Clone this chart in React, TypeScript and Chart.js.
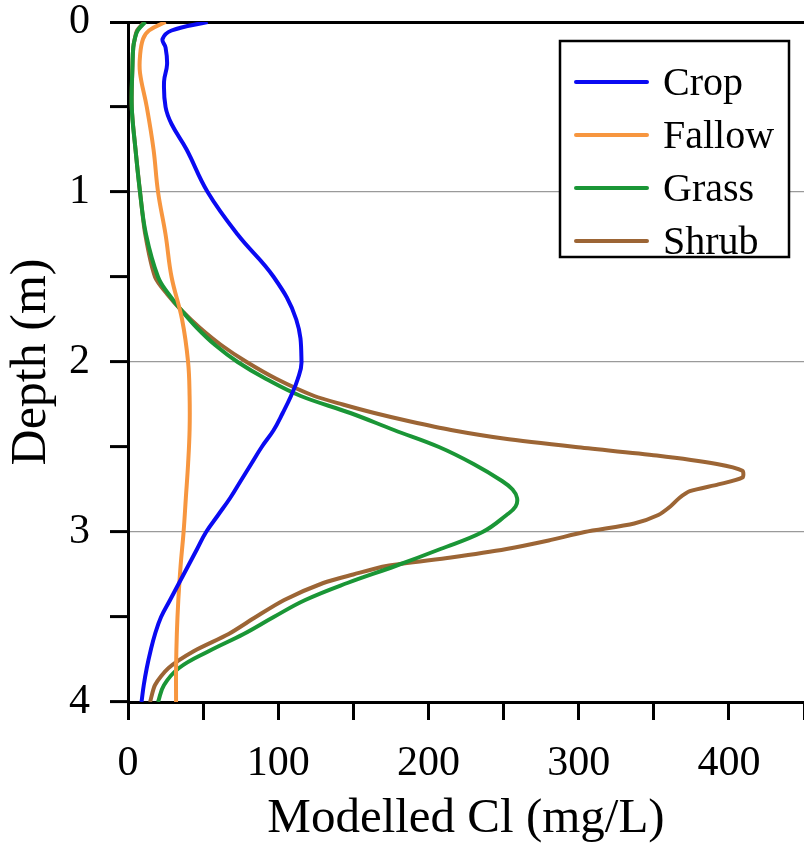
import React, { useEffect, useRef } from "react";
import { Chart, registerables } from "chart.js";

Chart.register(...registerables);

// ---- Data ----
const seriesNames = ["Crop", "Fallow", "Grass", "Shrub"];
const seriesColors = ["#0a0af2", "#f7963f", "#1a9636", "#9c6535"];

const cropDepth = [0, 0.05, 0.1, 0.15, 0.25, 0.35, 0.5, 0.6, 0.75, 1, 1.25, 1.5, 1.75, 2, 2.1, 2.2, 2.3, 2.4, 2.5, 2.6, 2.7, 2.8, 2.9, 3, 3.1, 3.2, 3.3, 3.4, 3.5, 3.6, 3.7, 3.8, 3.9, 4];
const cropCl = [53, 29, 23, 25, 26, 24, 25, 29, 39, 53, 73, 97, 112, 115.5, 113, 108.5, 103, 97, 89, 82, 75, 68, 60, 52, 46, 40, 34, 28, 22, 18, 15, 12.5, 10.5, 9];

const fallowDepth = [0, 0.05, 0.1, 0.2, 0.3, 0.5, 0.75, 1, 1.25, 1.5, 1.75, 2, 2.2, 2.4, 2.6, 2.8, 3, 3.2, 3.4, 3.6, 3.8, 4];
const fallowCl = [25, 14, 10, 8, 8, 12.5, 17, 20, 25, 29, 36, 40, 41, 41, 40, 38.5, 37, 35, 33.5, 32.5, 32, 32];

const grassDepth = [0, 0.05, 0.1, 0.15, 0.25, 0.5, 0.75, 1, 1.25, 1.5, 1.6, 1.7, 1.8, 1.9, 2, 2.1, 2.2, 2.3, 2.4, 2.5, 2.6, 2.7, 2.75, 2.8, 2.85, 2.9, 3, 3.1, 3.2, 3.3, 3.4, 3.5, 3.6, 3.7, 3.8, 3.9, 4];
const grassCl = [11.5, 6.5, 4.5, 3.5, 3, 2.5, 5, 8, 12, 20, 27, 36, 46, 58, 73, 92, 115, 148, 177, 207, 230, 249, 256, 259, 258, 252, 236, 208, 178, 146, 118, 97, 77, 54, 34, 24, 20];

const shrubDepth = [0, 0.05, 0.1, 0.15, 0.25, 0.5, 0.75, 1, 1.25, 1.5, 1.6, 1.7, 1.8, 1.9, 2, 2.1, 2.2, 2.25, 2.3, 2.35, 2.4, 2.45, 2.5, 2.55, 2.6, 2.64, 2.68, 2.72, 2.76, 2.8, 2.85, 2.9, 2.95, 3, 3.05, 3.1, 3.15, 3.2, 3.25, 3.3, 3.4, 3.5, 3.6, 3.7, 3.8, 3.9, 4];
const shrubCl = [11, 6, 4.5, 3.5, 3, 2.5, 5, 8, 11.5, 18, 26, 36, 48, 62, 79, 99, 124, 143, 164, 188, 215, 250, 298, 352, 392, 409, 409, 393, 374, 367, 361, 353, 337, 304, 280, 252, 215, 172, 150, 130, 104, 85, 67, 44, 27, 18, 14.7];

const xTickLabels = [0, 100, 200, 300, 400];
const yTickLabels = [0, 1, 2, 3, 4];
const yGridDepths = [1, 2, 3];

const xTitle = "Modelled Cl (mg/L)";
const yTitle = "Depth (m)";

const FONT = "'Liberation Serif', 'Times New Roman', serif";

export default function App() {
  const ref = useRef<HTMLCanvasElement>(null);

  useEffect(() => {
    document.body.style.margin = "0";
    const canvas = ref.current;
    if (!canvas) return;

    const toPts = (d: number[], v: number[]) => d.map((y, i) => ({ x: v[i], y }));
    const depths = [cropDepth, fallowDepth, grassDepth, shrubDepth];
    const values = [cropCl, fallowCl, grassCl, shrubCl];

    const legendPlugin = {
      id: "boxLegend",
      afterDraw(chart: any) {
        const ctx = chart.ctx;
        const ca = chart.chartArea;
        const bx = ca.right - 244;
        const by = ca.top + 19;
        const bw = 229;
        const bh = 216;
        ctx.save();
        ctx.fillStyle = "#ffffff";
        ctx.fillRect(bx, by, bw, bh);
        ctx.strokeStyle = "#000000";
        ctx.lineWidth = 2.5;
        ctx.strokeRect(bx, by, bw, bh);
        ctx.font = `40px ${FONT}`;
        ctx.textBaseline = "middle";
        ctx.textAlign = "left";
        seriesNames.forEach((name, i) => {
          const y = by + 41 + i * 53;
          ctx.strokeStyle = seriesColors[i];
          ctx.lineWidth = 4;
          ctx.lineCap = "round";
          ctx.beginPath();
          ctx.moveTo(bx + 16, y);
          ctx.lineTo(bx + 87, y);
          ctx.stroke();
          ctx.fillStyle = "#000000";
          ctx.fillText(name, bx + 103, y + 2);
        });
        ctx.restore();
      },
    };

    const chart = new Chart(canvas, {
      type: "scatter",
      data: {
        datasets: seriesNames.map((name, i) => ({
          label: name,
          data: toPts(depths[i], values[i]),
          showLine: true,
          borderColor: seriesColors[i],
          backgroundColor: seriesColors[i],
          borderWidth: 4,
          pointRadius: 0,
          tension: i === 3 ? 0.25 : 0.4,
          fill: false,
        })),
      },
      options: {
        responsive: false,
        animation: false,
        layout: { padding: { top: 22, right: 0, left: 0, bottom: 0 } },
        plugins: {
          legend: { display: false },
          tooltip: { enabled: false },
        },
        scales: {
          x: {
            type: "linear",
            position: "bottom",
            min: 0,
            max: 450,
            afterFit: (s: any) => {
              s.height = 153;
              s.paddingLeft = 0;
              s.paddingRight = 0;
            },
            ticks: {
              stepSize: 50,
              autoSkip: false,
              maxRotation: 0,
              padding: 23,
              color: "#000",
              font: { family: FONT, size: 42, lineHeight: 1 },
              callback: (v: any) => (xTickLabels.includes(Number(v)) ? String(v) : ""),
            },
            grid: {
              color: "rgba(0,0,0,0)",
              tickColor: "#000",
              tickLength: 18,
              tickWidth: 3,
            },
            border: { display: true, color: "#000", width: 3 },
            title: {
              display: true,
              text: xTitle,
              color: "#000",
              font: { family: FONT, size: 49, lineHeight: 1.2 },
              padding: { top: 0, bottom: 6 },
            },
          },
          y: {
            type: "linear",
            position: "left",
            reverse: true,
            min: 0,
            max: 4,
            afterFit: (s: any) => {
              s.width = 128;
              s.paddingTop = 0;
              s.paddingBottom = 0;
            },
            ticks: {
              stepSize: 0.5,
              autoSkip: false,
              padding: 20,
              color: "#000",
              font: { family: FONT, size: 42, lineHeight: 1 },
              callback: (v: any) => (yTickLabels.includes(Number(v)) ? String(v) : ""),
            },
            grid: {
              color: (c: any) =>
                c.tick && yGridDepths.includes(c.tick.value)
                  ? "#9a9a9a"
                  : c.tick && c.tick.value === 0
                  ? "#000"
                  : "rgba(0,0,0,0)",
              lineWidth: (c: any) => (c.tick && c.tick.value === 0 ? 3 : 1.2),
              tickColor: "#000",
              tickLength: 18,
              tickWidth: 3,
            },
            border: { display: true, color: "#000", width: 3 },
            title: {
              display: true,
              text: yTitle,
              color: "#000",
              font: { family: FONT, size: 50, lineHeight: 1.2 },
              padding: { top: 2, bottom: 0 },
            },
          },
        },
      },
      plugins: [legendPlugin],
    });

    return () => chart.destroy();
  }, []);

  return (
    <div style={{ width: 804, height: 855 }}>
      <canvas ref={ref} width={804} height={855} style={{ display: "block" }} />
    </div>
  );
}
